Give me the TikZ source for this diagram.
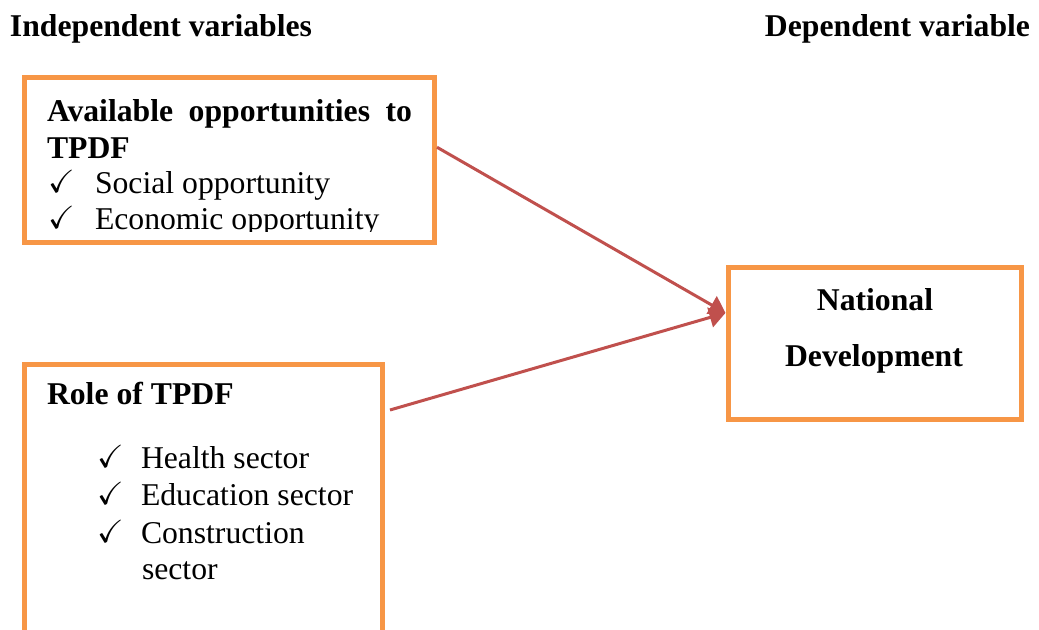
\documentclass[tikz,border=0pt]{standalone}
\usepackage{amssymb}
\usepackage{fontspec}
\setmainfont{Liberation Serif}
\usetikzlibrary{arrows.meta}
\definecolor{boxorange}{HTML}{F79646}
\definecolor{linkred}{HTML}{C0504D}
\begin{document}
\begin{tikzpicture}[x=0.5pt,y=-0.5pt,
  every node/.style={inner sep=0pt,outer sep=0pt,font=\fontsize{15.85}{19}\selectfont},
  box/.style={draw=boxorange,line width=2.5pt,rectangle,inner sep=0pt,outer sep=1.25pt},
  lbl/.style={anchor=base west},
  hd/.style={font=\fontsize{15.85}{19}\selectfont\bfseries},
  tick/.style={anchor=base west,font=\fontsize{16}{19}\selectfont},
  link/.style={draw=linkred,line width=1.5pt,-{Triangle[length=8pt,width=10pt]}}]
\useasboundingbox (0,0) rectangle (1039,630);
\clip (0,0) rectangle (1039,630);

% column headings
\node[hd,anchor=base west] (hind) at (10,37) {Independent variables};
\node[hd,anchor=base east] (hdep) at (1030,37) {Dependent variable};

% boxes
\node[box,minimum width=205pt,minimum height=82.25pt] (b1) at (229.5,160.25) {};
\node[box,minimum width=179pt,minimum height=147.75pt] (b2) at (203.5,512.25) {};
\node[box,minimum width=146.5pt,minimum height=75.75pt] (b3) at (874.5,343.75) {};

% first box contents
\node[hd,lbl] (t1a) at (47,122) {\makebox[182.5pt][s]{Available opportunities to}};
\node[hd,lbl] (t1b) at (47,159) {TPDF};
\begin{scope}
  \clip (27,81) rectangle (432,232);
  \node[tick] (c1a) at (48,193) {$\checkmark$};
  \node[lbl] (t1c) at (95,194) {Social opportunity};
  \node[tick] (c1b) at (48,229) {$\checkmark$};
  \node[lbl] (t1d) at (95,230) {Economic opportunity};
\end{scope}

% second box contents
\node[hd,lbl] (t2a) at (47,405) {Role of TPDF};
\node[tick] (c2a) at (97,468) {$\checkmark$};
\node[lbl] (t2b) at (141,469) {Health sector};
\node[tick] (c2b) at (97,505) {$\checkmark$};
\node[lbl] (t2c) at (141,506) {Education sector};
\node[tick] (c2c) at (97,543) {$\checkmark$};
\node[lbl] (t2d) at (141,544) {Construction};
\node[lbl] (t2e) at (142,580) {sector};

% third box contents
\node[hd,anchor=base] (t3a) at (875,311) {National};
\node[hd,anchor=base] (t3b) at (874,367) {Development};

% links
\draw[link] ([yshift=6.5pt]b1.east) -- ([yshift=15.4pt]b3.west);
\draw[link] ([xshift=2.5pt,yshift=-24pt]b2.north east) -- ([yshift=15.4pt]b3.west);
\end{tikzpicture}
\end{document}
